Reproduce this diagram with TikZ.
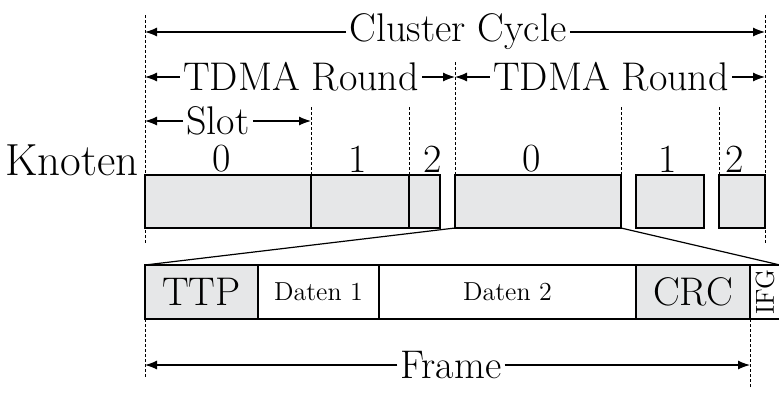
\documentclass[tikz,border=0pt]{standalone}
\usepackage{tikz}
\usetikzlibrary{arrows.meta,positioning,calc}

\definecolor{slotgray}{RGB}{230,231,232}
\newcommand{\bigfont}{\fontsize{20}{23}\selectfont}
\newcommand{\smallfont}{\fontsize{13}{15}\selectfont}

\begin{document}
\begin{tikzpicture}[
    x=0.5pt, y=-0.5pt, % Koordinaten in Pixeln, y nach unten
    >=Latex,
    % Stile
    slotbox/.style={
        draw,
        fill=slotgray,
        line width=0.7pt,
        minimum height=26.5pt,
        inner sep=0pt,
        outer sep=0pt
    },
    fieldbox/.style={
        draw,
        line width=0.7pt,
        minimum height=27pt,
        inner sep=0pt,
        outer sep=0pt
    },
    guide/.style={
        line width=0.4pt,
        dash pattern=on 1.5pt off 1pt
    },
    span/.style={
        -{Latex[length=6pt,width=4.5pt]},
        line width=0.6pt
    },
    lbl/.style={
        font=\bigfont,
        fill=white,
        inner xsep=1.5pt,
        inner ysep=0pt
    },
    num/.style={
        font=\bigfont,
        inner sep=0pt
    }
]
    \useasboundingbox (0,0) rectangle (779,392);

    % --- 1. Slots der beiden TDMA-Runden ---
    \node[slotbox, minimum width=83pt, anchor=north west] (s0) at (145,175) {};
    \node[slotbox, minimum width=49pt, right=0pt of s0] (s1) {};
    \node[slotbox, minimum width=15.5pt, right=0pt of s1] (s2) {};

    \node[slotbox, minimum width=83pt, anchor=north west] (t0) at (455,175) {};
    \node[slotbox, minimum width=34pt, right=7.5pt of t0] (t1) {};
    \node[slotbox, minimum width=23pt, right=7.5pt of t1] (t2) {};

    % Knotennummern
    \node[num] (n0) at (222,159) {0};
    \node[num] (n1) at (358,159) {1};
    \node[num] (n2) at (433,159) {2};
    \node[num] (m0) at (532,159) {0};
    \node[num] (m1) at (668,159) {1};
    \node[num] (m2) at (735,159) {2};
    \node[num, font=\fontsize{22.5}{26}\selectfont, anchor=east] (knoten) at (139,160) {Knoten};

    % --- 2. Frame (aufgeklappter Slot) ---
    \node[fieldbox, fill=slotgray, minimum width=56.5pt, font=\bigfont, anchor=north west] (ttp) at (145,265) {TTP};
    \node[fieldbox, minimum width=60.5pt, font=\smallfont, right=0pt of ttp] (daten1) {Daten 1};
    \node[fieldbox, minimum width=128.5pt, font=\smallfont, right=0pt of daten1] (daten2) {Daten 2};
    \node[fieldbox, fill=slotgray, minimum width=57pt, font=\bigfont, right=0pt of daten2] (crc) {CRC};
    \node[fieldbox, minimum width=15pt, right=0pt of crc] (ifg) {};
    \node[font=\smallfont, rotate=90, inner sep=0pt] (ifgtext) at (ifg.center) {IFG};

    % Zoom-Linien von Slot 0 auf den Frame
    \draw[line width=0.6pt] (t0.south west) -- (ttp.north west);
    \draw[line width=0.6pt] (t0.south east) -- (ifg.north east);

    % --- 3. Hilfslinien ---
    \coordinate (gA) at (145,0);
    \coordinate (gB) at (311,0);
    \coordinate (gD) at (455,0);
    \coordinate (gG) at (765,0);
    \coordinate (gH) at (750,0);

    \draw[guide] (145,15) -- (145,243);
    \draw[guide] (311,107) -- (s0.south east);
    \draw[guide] (409,107) -- (s1.north east);
    \draw[guide] (455,62) -- (t0.south west);
    \draw[guide] (621,107) -- (t0.south east);
    \draw[guide] (719,107) -- (t2.north west);
    \draw[guide] (765,15) -- (765,243);
    \draw[guide] (ttp.south west) -- (145,378);
    \draw[guide] (crc.south east) -- (750,387);

    % --- 4. Bemaßungspfeile ---
    \node[lbl] (cluster) at (458,32) {Cluster Cycle};
    \draw[span] (cluster) -- (cluster -| gA);
    \draw[span] (cluster) -- (cluster -| gG);

    \node[lbl] (round1) at (301,77) {TDMA Round};
    \draw[span] (round1) -- (round1 -| gA);
    \draw[span] (round1) -- (round1 -| gD);

    \node[lbl] (round2) at (611,77) {TDMA Round};
    \draw[span] (round2) -- (round2 -| gD);
    \draw[span] (round2) -- (round2 -| gG);

    \node[lbl] (slot) at (218,121) {Slot};
    \draw[span] (slot) -- (slot -| gA);
    \draw[span] (slot) -- (slot -| gB);

    \node[lbl] (frame) at (451,365) {Frame};
    \draw[span] (frame) -- (frame -| gA);
    \draw[span] (frame) -- (frame -| gH);

\end{tikzpicture}
\end{document}
